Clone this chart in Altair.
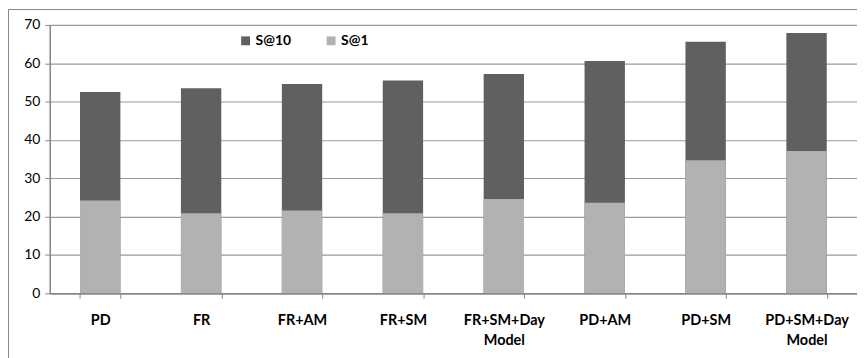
import altair as alt
import pandas as pd

categories = ["PD", "FR", "FR+AM", "FR+SM", "FR+SM+Day Model", "PD+AM", "PD+SM", "PD+SM+Day Model"]
s10 = [52.5, 53.5, 54.6, 55.5, 57.2, 60.6, 65.6, 67.9]
s1 = [24.2, 20.9, 21.6, 20.9, 24.6, 23.6, 34.7, 37.1]
series = ["S@10", "S@1"]
colors = ["#606060", "#b2b2b2"]

rows = []
for name, vals in zip(series, [s10, s1]):
    for c, v in zip(categories, vals):
        rows.append({"cat": c, "series": name, "value": v})
df = pd.DataFrame(rows)

W, H = 812, 270
FONT = "Lato"

bars = alt.Chart(df).mark_bar().encode(
    x=alt.X("cat:N", sort=categories, title=None,
            scale=alt.Scale(paddingInner=0.6, paddingOuter=0.3),
            axis=alt.Axis(labelAngle=0, labelFontWeight="bold", labelFontSize=14.5,
                          labelColor="#000", labelFont=FONT, labelPadding=15,
                          labelLineHeight=20,
                          labelExpr="isValid(datum.value) ? split(datum.value, ' ') : ''",
                          tickBand="extent", tickSize=5, tickColor="#868686",
                          domainColor="#868686", domainWidth=1.5, grid=False)),
    y=alt.Y("value:Q", stack=None, title=None,
            scale=alt.Scale(domain=[0, 70]),
            axis=alt.Axis(values=[0, 10, 20, 30, 40, 50, 60, 70], labelFontSize=14,
                          labelColor="#000", labelFont=FONT, labelPadding=5,
                          tickSize=5, tickColor="#868686", domainColor="#868686",
                          domainWidth=1.5, gridColor="#9a9a9a", gridWidth=1.2)),
    color=alt.Color("series:N", scale=alt.Scale(domain=series, range=colors),
                    legend=alt.Legend(orient="none", legendX=190, legendY=9,
                                      direction="horizontal", title=None,
                                      symbolType="square", symbolSize=80,
                                      symbolStrokeWidth=0, labelFontWeight="bold",
                                      labelFontSize=14, labelFont=FONT, labelColor="#000",
                                      columnPadding=33, labelOffset=3)),
    order=alt.Order("order:Q"),
).transform_calculate(order="datum.series == 'S@10' ? 0 : 1")

frame = alt.Chart(pd.DataFrame({"a": [0]})).mark_rect(
    fill=None, stroke="#868686", strokeWidth=1, clip=False
).encode(x=alt.value(-41.5), x2=alt.value(W + 30), y=alt.value(-15.5), y2=alt.value(H + 90))

chart = alt.layer(frame, bars).properties(
    width=W, height=H,
    autosize=alt.AutoSizeParams(type="none"),
    padding={"left": 42, "top": 16, "right": 0, "bottom": 64},
).configure_view(stroke=None).configure(font=FONT)

chart.save("out.html", embed_options={"renderer": "svg", "actions": False})
